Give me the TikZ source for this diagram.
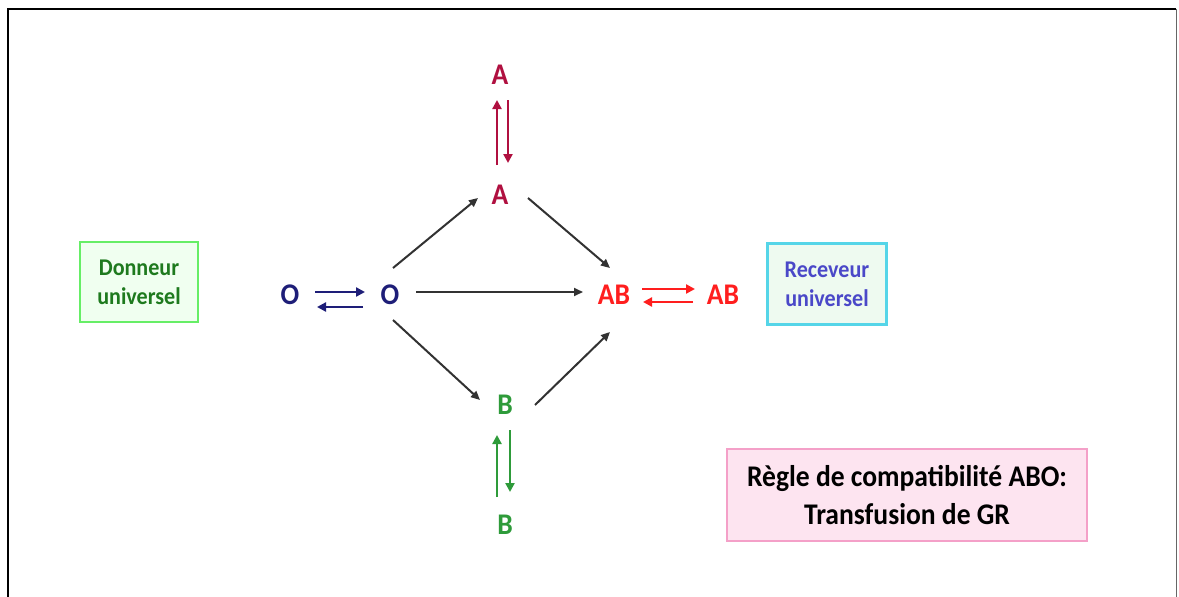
\documentclass[tikz,border=0pt]{standalone}
\usepackage{fontspec}
\setmainfont{Carlito}[FakeStretch=0.92]
\usetikzlibrary{arrows.meta}
\definecolor{navy}{RGB}{30,30,120}
\definecolor{crim}{RGB}{176,16,64}
\definecolor{abred}{RGB}{255,30,30}
\definecolor{bgreen}{RGB}{46,155,58}
\definecolor{dgreen}{RGB}{30,122,30}
\definecolor{boxgreen}{RGB}{102,238,102}
\definecolor{fillgreen}{RGB}{240,255,240}
\definecolor{boxcyan}{RGB}{85,213,232}
\definecolor{fillcyan}{RGB}{238,250,240}
\definecolor{recblue}{RGB}{74,72,200}
\definecolor{boxpink}{RGB}{244,160,200}
\definecolor{fillpink}{RGB}{253,228,240}
\definecolor{arrgray}{RGB}{50,50,50}
\tikzset{
  letter/.style={font=\bfseries\fontsize{30}{32}\selectfont, inner sep=0pt},
  infobox/.style={draw, line width=2.5pt, align=center, font=\bfseries\fontsize{24}{29}\selectfont, inner sep=0pt},
  blackarr/.style={draw=arrgray, line width=2pt, -{Triangle[length=9pt,width=8pt]}},
  colarr/.style={line width=2.8pt, -{Triangle[length=9pt,width=9pt]}},
}
\begin{document}
\begin{tikzpicture}[x=1pt,y=-1pt]
\useasboundingbox (0,0) rectangle (1179,597);
\fill[white] (0,0) rectangle (1179,597);
\draw[line width=2pt] (8,597) -- (8,9) -- (1176,9);
\draw[line width=0.8pt, black!60] (1176,9) -- (1176,597);

% boxes
\node[infobox, draw=boxgreen, fill=fillgreen, text=dgreen, minimum width=118pt, minimum height=80pt] (donneur) at (139,282) {Donneur\\universel};
\node[infobox, draw=boxcyan, fill=fillcyan, text=recblue, minimum width=119pt, minimum height=81pt] (receveur) at (827,284) {Receveur\\universel};
\node[infobox, draw=boxpink, fill=fillpink, text=black, minimum width=360pt, minimum height=92pt, font=\bfseries\fontsize{30}{38}\selectfont] (regle) at (907,495) {Règle de compatibilité ABO:\\Transfusion de GR};

% letters
\node[letter, text=navy] (o1) at (290,295) {O};
\node[letter, text=navy] (o2) at (390,295) {O};
\node[letter, text=crim] (a2) at (500,75) {A};
\node[letter, text=crim] (a1) at (500,195) {A};
\node[letter, text=abred] (ab1) at (614,295) {AB};
\node[letter, text=abred] (ab2) at (723,295) {AB};
\node[letter, text=bgreen] (b1) at (505,405) {B};
\node[letter, text=bgreen] (b2) at (505,525) {B};

% black arrows
\draw[blackarr] ([shift={(3,-27)}]o2.center) -- ([shift={(-22,3)}]a1.center);
\draw[blackarr] ([shift={(28,3)}]a1.center) -- ([shift={(-4,-27)}]ab1.center);
\draw[blackarr] ([shift={(26,-3)}]o2.center) -- ([shift={(-31,-3)}]ab1.center);
\draw[blackarr] ([shift={(3,25)}]o2.center) -- ([shift={(-25,-5)}]b1.center);
\draw[blackarr] ([shift={(30,0)}]b1.center) -- ([shift={(-4,37)}]ab1.center);

% O exchange
\draw[colarr, navy] ([shift={(25,-3)}]o1.center) -- ([shift={(-25,-3)}]o2.center);
\draw[colarr, navy] ([shift={(-27,12)}]o2.center) -- ([shift={(27,12)}]o1.center);
% AB exchange
\draw[colarr, abred] ([shift={(28,-6)}]ab1.center) -- ([shift={(-28,-6)}]ab2.center);
\draw[colarr, abred] ([shift={(79,7)}]ab1.center) -- ([shift={(-80,7)}]ab2.center);
% A exchange
\draw[colarr, crim] ([shift={(-3,-30)}]a1.center) -- ([shift={(-3,25)}]a2.center);
\draw[colarr, crim] ([shift={(8,25)}]a2.center) -- ([shift={(8,-32)}]a1.center);
% B exchange
\draw[colarr, bgreen] ([shift={(-8,-28)}]b2.center) -- ([shift={(-8,30)}]b1.center);
\draw[colarr, bgreen] ([shift={(5,25)}]b1.center) -- ([shift={(5,-33)}]b2.center);
\end{tikzpicture}
\end{document}
